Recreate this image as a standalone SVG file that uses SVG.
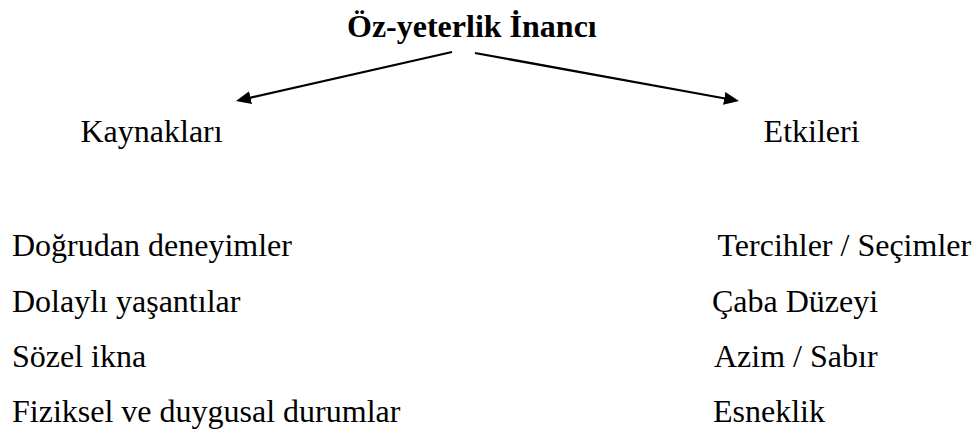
<svg xmlns="http://www.w3.org/2000/svg" width="979" height="432" viewBox="0 0 979 432">
<style>
  text { font-family: "Liberation Serif", "Times New Roman", serif; font-size: 32px; fill: #000; }
  .title { font-weight: bold; }
  .conn { stroke: #000; stroke-width: 2.25; fill: none; }
</style>
<defs>
  <marker id="ah" markerUnits="userSpaceOnUse" markerWidth="16" markerHeight="14" refX="1" refY="6.5" orient="auto" viewBox="0 0 16 13">
    <path d="M0,0 L15,6.5 L0,13 z" fill="#000"/>
  </marker>
</defs>
<rect width="979" height="432" fill="#fff"/>
<g id="title"><text class="title" x="347" y="37">Öz-yeterlik İnancı</text></g>
<g id="connectors">
  <line class="conn" x1="452" y1="52" x2="249.6" y2="97.9" marker-end="url(#ah)"/>
  <line class="conn" x1="475" y1="53" x2="725.2" y2="98.5" marker-end="url(#ah)"/>
</g>
<g id="kaynaklari"><text x="80.5" y="142">Kaynakları</text></g>
<g id="etkileri"><text x="763.6" y="142">Etkileri</text></g>
<g id="kaynak-list">
  <text x="12" y="256">Doğrudan deneyimler</text>
  <text x="12" y="311.5">Dolaylı yaşantılar</text>
  <text x="12" y="366.5">Sözel ikna</text>
  <text x="12" y="421.5">Fiziksel ve duygusal durumlar</text>
</g>
<g id="etki-list">
  <text x="717.5" y="256">Tercihler / Seçimler</text>
  <text x="712" y="311.5">Çaba Düzeyi</text>
  <text x="714" y="366.5">Azim / Sabır</text>
  <text x="713" y="421.5">Esneklik</text>
</g>
</svg>
